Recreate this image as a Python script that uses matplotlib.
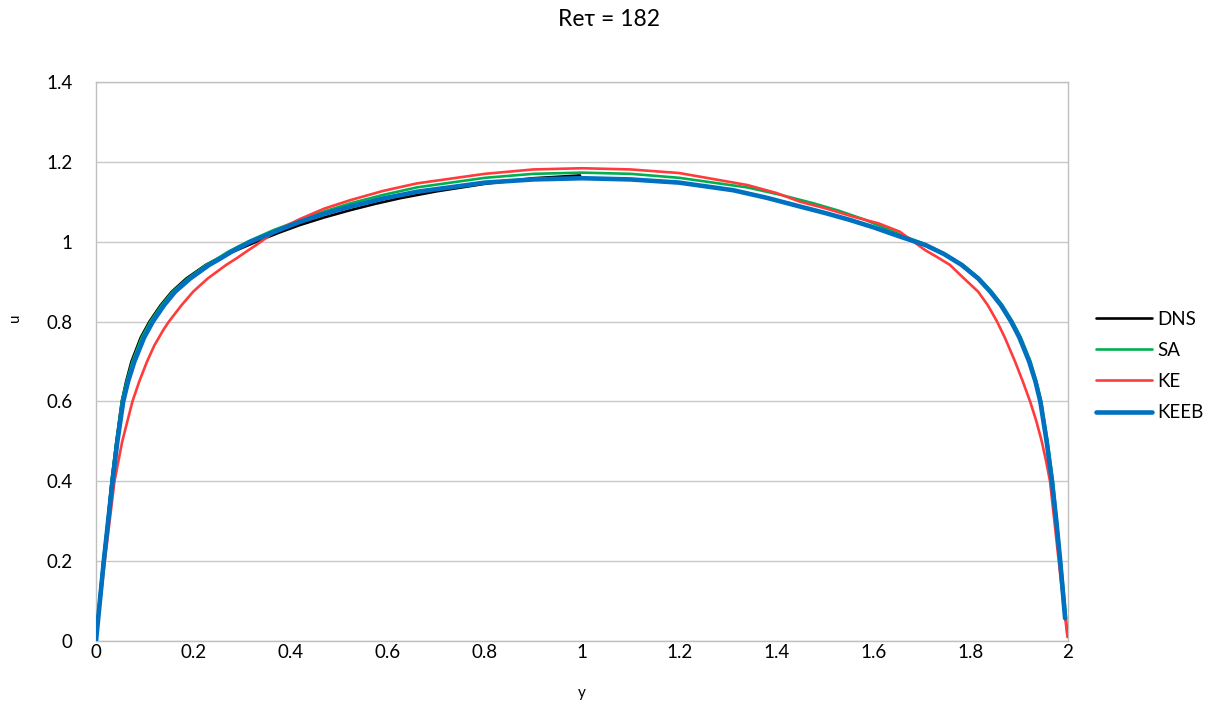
import matplotlib
matplotlib.use("Agg")
import matplotlib.pyplot as plt

# ---- data ----
dns_y = [0.000, 0.007, 0.015, 0.024, 0.032, 0.042, 0.053, 0.062, 0.073, 0.092, 0.110, 0.133,
         0.156, 0.186, 0.226, 0.254, 0.282, 0.330, 0.375, 0.420, 0.470, 0.523, 0.575, 0.626,
         0.700, 0.800, 0.900, 0.996]
dns_u = [0.000, 0.100, 0.200, 0.300, 0.400, 0.500, 0.600, 0.650, 0.700, 0.760, 0.800, 0.841,
         0.875, 0.908, 0.942, 0.960, 0.975, 1.000, 1.022, 1.042, 1.061, 1.079, 1.095, 1.109,
         1.126, 1.145, 1.159, 1.166]

sa_y = [0.000, 0.007, 0.015, 0.024, 0.032, 0.042, 0.053, 0.063, 0.075, 0.094, 0.112, 0.135,
        0.158, 0.189, 0.227, 0.250, 0.272, 0.312, 0.365, 0.420, 0.470, 0.523, 0.590, 0.660,
        0.800, 0.900, 1.000, 1.100, 1.200, 1.340, 1.410, 1.477, 1.530, 1.580, 1.620, 1.660,
        1.706, 1.745, 1.784, 1.818, 1.843, 1.865, 1.886, 1.903, 1.923, 1.935, 1.945, 1.958,
        1.969, 1.977, 1.985, 1.993, 1.999]
sa_u = [0.000, 0.100, 0.200, 0.300, 0.400, 0.500, 0.600, 0.650, 0.700, 0.760, 0.800, 0.841,
        0.875, 0.908, 0.942, 0.958, 0.975, 1.000, 1.029, 1.054, 1.076, 1.096, 1.117, 1.136,
        1.160, 1.170, 1.173, 1.170, 1.160, 1.136, 1.117, 1.096, 1.077, 1.056, 1.036, 1.015,
        0.994, 0.971, 0.942, 0.908, 0.875, 0.841, 0.800, 0.760, 0.700, 0.650, 0.600, 0.500,
        0.400, 0.300, 0.200, 0.100, 0.011]

ke_y = [0.000, 0.009, 0.018, 0.028, 0.038, 0.054, 0.075, 0.089, 0.105, 0.120, 0.139, 0.150,
        0.176, 0.200, 0.230, 0.268, 0.290, 0.309, 0.330, 0.370, 0.420, 0.470, 0.523, 0.590,
        0.660, 0.800, 0.900, 1.000, 1.100, 1.200, 1.340, 1.400, 1.449, 1.500, 1.560, 1.610,
        1.654, 1.706, 1.730, 1.757, 1.786, 1.815, 1.835, 1.854, 1.870, 1.891, 1.907, 1.922,
        1.935, 1.946, 1.955, 1.963, 1.972, 1.981, 1.990, 1.999]
ke_u = [0.000, 0.100, 0.200, 0.300, 0.400, 0.500, 0.600, 0.650, 0.700, 0.740, 0.780, 0.800,
        0.841, 0.875, 0.908, 0.942, 0.959, 0.975, 0.992, 1.027, 1.057, 1.083, 1.104, 1.127,
        1.146, 1.170, 1.181, 1.184, 1.181, 1.172, 1.142, 1.122, 1.100, 1.084, 1.062, 1.046,
        1.025, 0.979, 0.962, 0.942, 0.908, 0.875, 0.841, 0.800, 0.760, 0.700, 0.650, 0.600,
        0.550, 0.500, 0.450, 0.400, 0.300, 0.200, 0.100, 0.010]

keeb_y = [0.000, 0.008, 0.016, 0.025, 0.034, 0.044, 0.056, 0.066, 0.079, 0.099, 0.117, 0.140,
          0.163, 0.194, 0.233, 0.256, 0.279, 0.318, 0.370, 0.420, 0.470, 0.523, 0.590, 0.660,
          0.800, 0.900, 1.000, 1.100, 1.200, 1.311, 1.380, 1.449, 1.500, 1.550, 1.600, 1.654,
          1.706, 1.745, 1.781, 1.815, 1.840, 1.862, 1.883, 1.900, 1.920, 1.933, 1.943, 1.956,
          1.967, 1.976, 1.984, 1.994]
keeb_u = [0.000, 0.100, 0.200, 0.300, 0.400, 0.500, 0.600, 0.650, 0.700, 0.760, 0.800, 0.841,
          0.875, 0.908, 0.942, 0.958, 0.975, 1.000, 1.026, 1.050, 1.070, 1.088, 1.108, 1.125,
          1.148, 1.156, 1.159, 1.156, 1.148, 1.129, 1.110, 1.088, 1.072, 1.055, 1.036, 1.013,
          0.992, 0.969, 0.942, 0.908, 0.875, 0.841, 0.800, 0.760, 0.700, 0.650, 0.600, 0.500,
          0.400, 0.300, 0.200, 0.057]

x_ticks = [0, 0.2, 0.4, 0.6, 0.8, 1, 1.2, 1.4, 1.6, 1.8, 2]
x_tick_labels = ["0", "0.2", "0.4", "0.6", "0.8", "1", "1.2", "1.4", "1.6", "1.8", "2"]
y_ticks = [0, 0.2, 0.4, 0.6, 0.8, 1, 1.2, 1.4]
y_tick_labels = ["0", "0.2", "0.4", "0.6", "0.8", "1", "1.2", "1.4"]

plt.rcParams['font.family'] = ['Lato', 'DejaVu Sans']

W, H = 1218, 706
fig = plt.figure(figsize=(W / 100, H / 100), dpi=100)
ax = fig.add_axes([96 / W, 1 - 641 / H, (1068 - 96) / W, (641 - 82) / H])

common = dict(solid_capstyle='round', solid_joinstyle='round')
ax.plot(dns_y, dns_u, color='#000000', lw=1.9, label='DNS', zorder=3, **common)
ax.plot(sa_y, sa_u, color='#00B050', lw=1.9, label='SA', zorder=3, **common)
ax.plot(ke_y, ke_u, color='#FF3B3B', lw=1.9, label='KE', zorder=3, **common)
ax.plot(keeb_y, keeb_u, color='#0070C0', lw=3.3, label='KEEB', zorder=4, **common)

ax.set_xlim(0, 2)
ax.set_ylim(0, 1.4)
ax.set_xticks(x_ticks)
ax.set_xticklabels(x_tick_labels)
ax.set_yticks(y_ticks)
ax.set_yticklabels(y_tick_labels)
ax.tick_params(axis='both', length=0, labelsize=13.5, colors='#000000')
ax.tick_params(axis='x', pad=2)
ax.tick_params(axis='y', pad=17)
ax.grid(axis='y', color='#C8C8C8', lw=1.0)
ax.set_axisbelow(True)
for s in ax.spines.values():
    s.set_color('#BFBFBF')
    s.set_linewidth(1.0)

fig.text(582 / W, 1 - 693 / H, 'y', ha='center', va='center', fontsize=11)
fig.text(15 / W, 1 - 318 / H, 'u', ha='center', va='center', fontsize=11, rotation=90)
fig.text(609 / W, 1 - 20 / H, 'Reτ = 182', ha='center', va='center', fontsize=16.5)

leg = fig.legend(loc='center left', bbox_to_anchor=(1088 / W, 1 - 366 / H), frameon=False,
                 fontsize=13.5, handlelength=3.0, handletextpad=0.3, labelspacing=0.75,
                 borderaxespad=0)
for line in leg.get_lines():
    line.set_solid_capstyle('round')

fig.savefig('out.png', dpi=100)
